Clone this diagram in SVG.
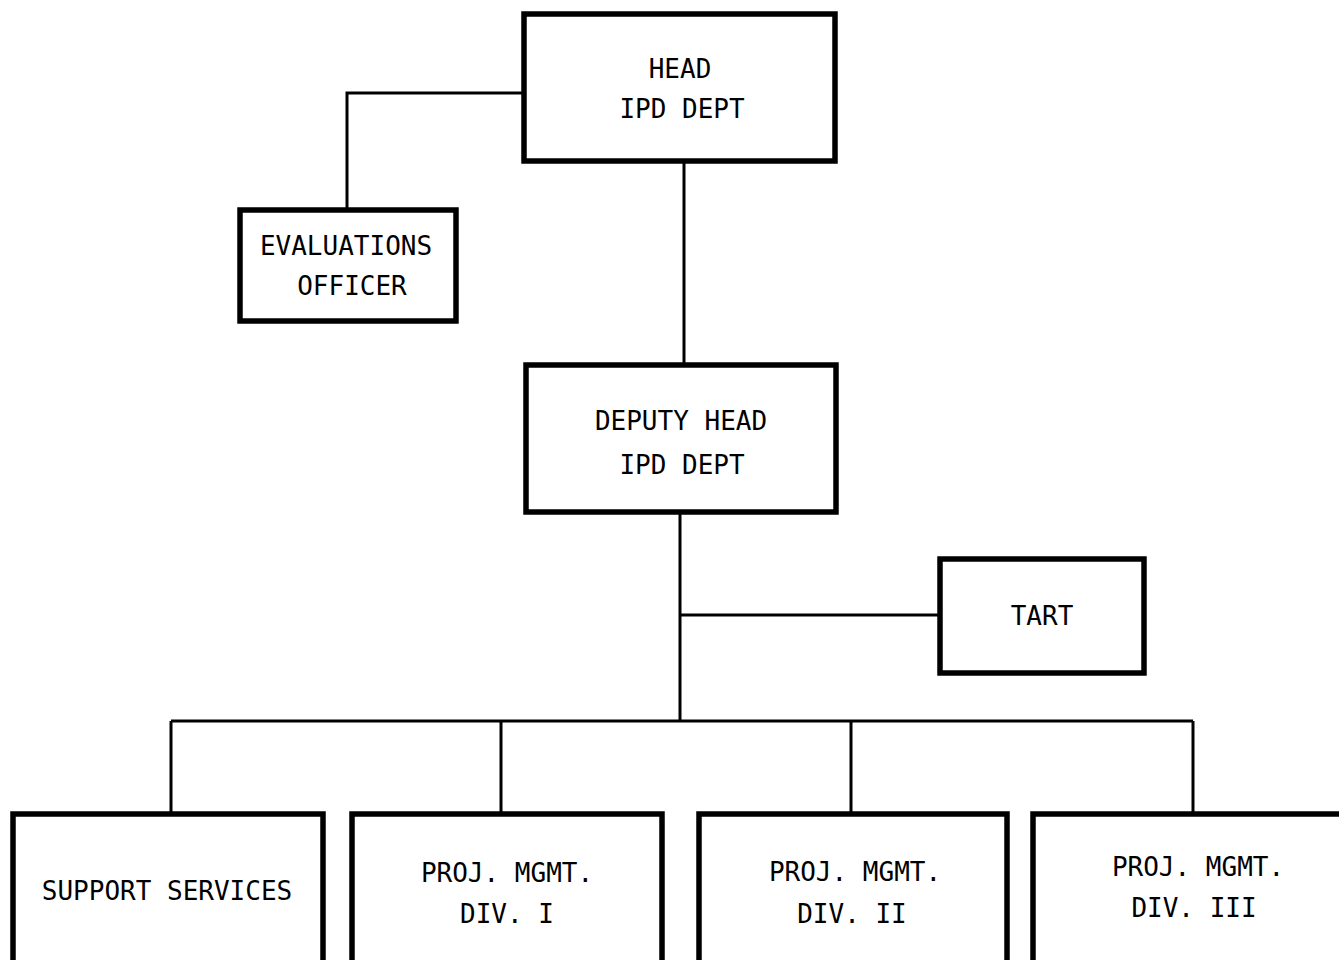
<svg xmlns="http://www.w3.org/2000/svg" width="1339" height="960" viewBox="0 0 1339 960">
<style>
.box{fill:#fff;stroke:#000;stroke-width:5.5}
.ln{fill:none;stroke:#000;stroke-width:3}
text{font-family:"DejaVu Sans Mono","Liberation Mono",monospace;font-size:26px;fill:#000;text-anchor:middle}
</style>
<rect width="1339" height="960" fill="#fff"/>
<g id="connectors">
<path class="ln" d="M524 93 H347 V210"/>
<path class="ln" d="M684 161 V365"/>
<path class="ln" d="M680 512 V721"/>
<path class="ln" d="M680 615 H940"/>
<path class="ln" d="M171 721 H1193"/>
<path class="ln" d="M171 721 V814"/>
<path class="ln" d="M501 721 V814"/>
<path class="ln" d="M851 721 V814"/>
<path class="ln" d="M1193 721 V814"/>
</g>
<g id="head">
<rect class="box" x="524" y="14" width="311" height="147"/>
<text x="680" y="78">HEAD</text>
<text x="682" y="118">IPD DEPT</text>
</g>
<g id="evaluations">
<rect class="box" x="240" y="210" width="216" height="111"/>
<text x="346" y="255">EVALUATIONS</text>
<text x="352" y="295">OFFICER</text>
</g>
<g id="deputy">
<rect class="box" x="526" y="365" width="310" height="147"/>
<text x="681" y="430">DEPUTY HEAD</text>
<text x="682" y="474">IPD DEPT</text>
</g>
<g id="tart">
<rect class="box" x="940" y="559" width="204" height="114"/>
<text x="1042" y="625">TART</text>
</g>
<g id="support">
<rect class="box" x="13" y="814" width="310" height="160"/>
<text x="167" y="900">SUPPORT SERVICES</text>
</g>
<g id="div1">
<rect class="box" x="352" y="814" width="310" height="160"/>
<text x="507" y="882">PROJ. MGMT.</text>
<text x="507" y="923">DIV. I</text>
</g>
<g id="div2">
<rect class="box" x="699" y="814" width="308" height="160"/>
<text x="855" y="881">PROJ. MGMT.</text>
<text x="852" y="923">DIV. II</text>
</g>
<g id="div3">
<rect class="box" x="1033" y="814" width="320" height="160"/>
<text x="1198" y="876">PROJ. MGMT.</text>
<text x="1194" y="917">DIV. III</text>
</g>
</svg>
